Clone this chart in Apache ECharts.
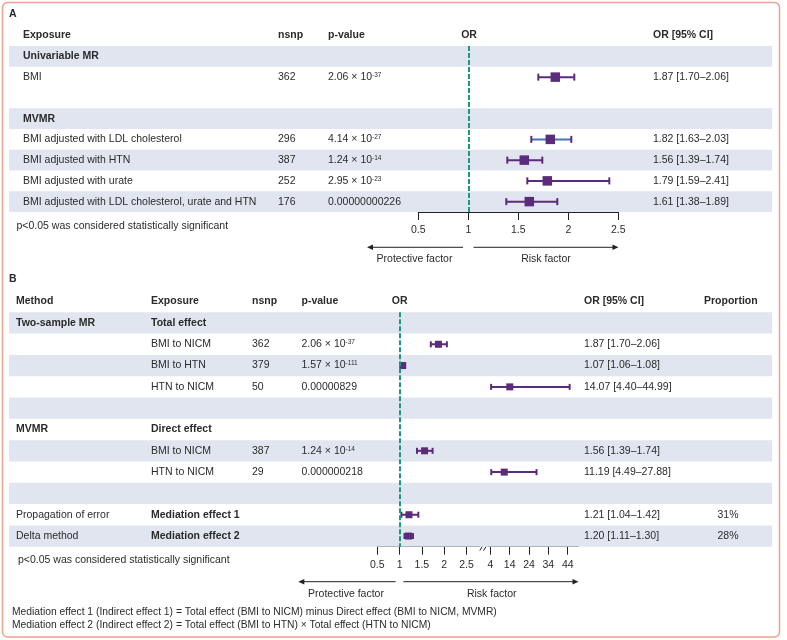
<!DOCTYPE html>
<html><head><meta charset="utf-8">
<script src="https://cdn.jsdelivr.net/npm/echarts@6/dist/echarts.min.js"></script>
<style>html,body{margin:0;padding:0;background:#fff}#c{width:787px;height:640px}</style>
</head><body><div id="c"></div>
<script>
// ---------------- Panel A data ----------------
const aExposure = ['Univariable MR', 'BMI', '', 'MVMR', 'BMI adjusted with LDL cholesterol', 'BMI adjusted with HTN', 'BMI adjusted with urate', 'BMI adjusted with LDL cholesterol, urate and HTN'];
const aNsnp = ['', '362', '', '', '296', '387', '252', '176'];
const aPvalue = ['', '2.06 × 10^-37', '', '', '4.14 × 10^-27', '1.24 × 10^-14', '2.95 × 10^-23', '0.00000000226'];
const aOR = [null, 1.87, null, null, 1.82, 1.56, 1.79, 1.61];
const aLower = [null, 1.70, null, null, 1.63, 1.39, 1.59, 1.38];
const aUpper = [null, 2.06, null, null, 2.03, 1.74, 2.41, 1.89];
const aTicks = [0.5, 1, 1.5, 2, 2.5];
const aHeaders = ['Exposure', 'nsnp', 'p-value', 'OR', 'OR [95% CI]'];

// ---------------- Panel B data ----------------
const bMethod = ['Two-sample MR', '', '', '', '', 'MVMR', '', '', '', 'Propagation of error', 'Delta method'];
const bExposure = ['Total effect', 'BMI to NICM', 'BMI to HTN', 'HTN to NICM', '', 'Direct effect', 'BMI to NICM', 'HTN to NICM', '', 'Mediation effect 1', 'Mediation effect 2'];
const bNsnp = ['', '362', '379', '50', '', '', '387', '29', '', '', ''];
const bPvalue = ['', '2.06 × 10^-37', '1.57 × 10^-111', '0.00000829', '', '', '1.24 × 10^-14', '0.000000218', '', '', ''];
const bOR = [null, 1.87, 1.07, 14.07, null, null, 1.56, 11.19, null, 1.21, 1.20];
const bLower = [null, 1.70, 1.06, 4.40, null, null, 1.39, 4.49, null, 1.04, 1.11];
const bUpper = [null, 2.06, 1.08, 44.99, null, null, 1.74, 27.88, null, 1.42, 1.30];
const bProportion = ['', '', '', '', '', '', '', '', '', '31%', '28%'];
const bTicksLow = [0.5, 1, 1.5, 2, 2.5];
const bTicksHigh = [4, 14, 24, 34, 44];
const bHeaders = ['Method', 'Exposure', 'nsnp', 'p-value', 'OR', 'OR [95% CI]', 'Proportion'];

const noteText = 'p<0.05 was considered statistically significant';
const footnotes = [
  'Mediation effect 1 (Indirect effect 1) = Total effect (BMI to NICM) minus Direct effect (BMI to NICM, MVMR)',
  'Mediation effect 2 (Indirect effect 2) = Total effect (BMI to HTN) × Total effect (HTN to NICM)'
];

// ---------------- Styles / layout ----------------
const FONT = '"Liberation Sans", Arial, sans-serif';
const FS = 10.5;
const TXT = '#2b2b2b';
const PURPLE = '#5b2b7c', BLUE = '#4674ba', TEAL = '#1a9a80', BAND = '#e1e5ef', BORDER = '#eda18e', AXIS = '#222';
const aBoldRows = [0, 3], aShadeRows = [0, 3, 5, 7], aBlueRows = [4];
const bMethodBold = [0, 5], bExposureBold = [0, 5, 9, 10];
const bShade = i => i % 2 === 0;
const LA = { top: 46, bottom: 212, plotLeft: 418.3, plotRight: 618.3 };
const LB = { top: 312.3, bottom: 546.7, lowLeft: 377.3, lowMax: 2.8, highMin: 2.8, highMax: 49.5, lowPx: 44.6, highPx: 1.935, highLeft: 488 };
const TABLE_L = 9, TABLE_R = 772;
const fmt = v => v.toFixed(2);
const ciText = (o, l, u) => o == null ? '' : fmt(o) + ' [' + fmt(l) + '–' + fmt(u) + ']';
const pRich = s => { const k = s.indexOf('^'); return k < 0 ? s : s.slice(0, k) + '{sup|' + s.slice(k + 1) + '}'; };
const tf = (b, size) => (b ? 'bold ' : '') + (size || FS) + 'px ' + FONT;
const RICH = { sup: { font: '6.5px ' + FONT, fontSize: 6.5, fontFamily: FONT, verticalAlign: 'top', lineHeight: 9, fill: TXT } };
function textEl(x, y, text, bold, align, size) {
  return {
    type: 'text', x: x, y: y,
    style: { text: text, font: tf(bold, size), fill: TXT, align: align || 'left', verticalAlign: 'middle',
      textAlign: align || 'left', textVerticalAlign: 'middle', rich: RICH }
  };
}

function tableRenderer(shadeFn, cols) {
  return function (params, api) {
    const i = api.value(1);
    const c = api.coord([0, i]);
    const h = api.size([0, 1])[1];
    const cs = params.coordSys;
    const ch = [];
    if (shadeFn(i)) ch.push({ type: 'rect', shape: { x: cs.x, y: c[1] - h / 2, width: cs.width, height: h }, style: { fill: BAND } });
    cols.forEach(col => {
      const t = col.get(i);
      if (t) ch.push(textEl(col.x, c[1], t, col.bold ? col.bold(i) : false, col.align));
    });
    return { type: 'group', children: ch };
  };
}

function ciRenderer(capH, blueRows) {
  return function (params, api) {
    const lo = api.value(0), hi = api.value(1), i = api.value(2);
    const a = api.coord([lo, i]), b = api.coord([hi, i]);
    const lineColor = blueRows.indexOf(i) >= 0 ? BLUE : PURPLE;
    const h = capH / 2;
    return { type: 'group', children: [
      { type: 'line', shape: { x1: a[0], y1: a[1], x2: b[0], y2: b[1] }, style: { stroke: lineColor, lineWidth: 2 } },
      { type: 'line', shape: { x1: a[0], y1: a[1] - h, x2: a[0], y2: a[1] + h }, style: { stroke: PURPLE, lineWidth: 2 } },
      { type: 'line', shape: { x1: b[0], y1: b[1] - h, x2: b[0], y2: b[1] + h }, style: { stroke: PURPLE, lineWidth: 2 } }
    ] };
  };
}

const rowsIdx = arr => arr.map((_, i) => i);
const gridCommon = { outerBoundsMode: 'none', containLabel: false };
const axisStyle = {
  axisLine: { show: true, onZero: false, lineStyle: { color: AXIS, width: 1 } },
  axisTick: { show: true, inside: false, length: 8, lineStyle: { color: AXIS, width: 1 } },
  axisLabel: { margin: 12.5, color: TXT, fontSize: FS, fontFamily: FONT },
  splitLine: { show: false }
};
const hiddenY = (n) => ({ type: 'category', data: Array.from({ length: n }, (_, i) => String(i)), inverse: true, show: false });

// grids
const hA = LA.bottom - LA.top, hB = LB.bottom - LB.top;
const grids = [
  Object.assign({ left: TABLE_L, top: LA.top, width: TABLE_R - TABLE_L, height: hA }, gridCommon),
  Object.assign({ left: LA.plotLeft, top: LA.top, width: LA.plotRight - LA.plotLeft, height: hA }, gridCommon),
  Object.assign({ left: TABLE_L, top: LB.top, width: TABLE_R - TABLE_L, height: hB }, gridCommon),
  Object.assign({ left: LB.lowLeft, top: LB.top, width: (LB.lowMax - 0.5) * LB.lowPx, height: hB }, gridCommon),
  Object.assign({ left: LB.highLeft, top: LB.top, width: (LB.highMax - LB.highMin) * LB.highPx, height: hB }, gridCommon)
];

const xAxes = [
  { gridIndex: 0, type: 'value', min: 0, max: 1, show: false },
  Object.assign({}, axisStyle, { gridIndex: 1, type: 'value', min: 0.5, max: 2.5,
    axisTick: Object.assign({}, axisStyle.axisTick, { customValues: aTicks }),
    axisLabel: Object.assign({}, axisStyle.axisLabel, { customValues: aTicks }) }),
  { gridIndex: 2, type: 'value', min: 0, max: 1, show: false },
  Object.assign({}, axisStyle, { gridIndex: 3, type: 'value', min: 0.5, max: LB.lowMax,
    axisTick: Object.assign({}, axisStyle.axisTick, { customValues: bTicksLow }),
    axisLabel: Object.assign({}, axisStyle.axisLabel, { customValues: bTicksLow }) }),
  Object.assign({}, axisStyle, { gridIndex: 4, type: 'value', min: LB.highMin, max: LB.highMax,
    axisTick: Object.assign({}, axisStyle.axisTick, { customValues: bTicksHigh }),
    axisLabel: Object.assign({}, axisStyle.axisLabel, { customValues: bTicksHigh }) })
];
const yAxes = [
  Object.assign({ gridIndex: 0 }, hiddenY(aExposure.length)),
  Object.assign({ gridIndex: 1 }, hiddenY(aExposure.length)),
  Object.assign({ gridIndex: 2 }, hiddenY(bExposure.length)),
  Object.assign({ gridIndex: 3 }, hiddenY(bExposure.length)),
  Object.assign({ gridIndex: 4 }, hiddenY(bExposure.length))
];

const refLine = {
  silent: true, symbol: ['none', 'none'], label: { show: false },
  lineStyle: { color: TEAL, width: 2, type: [5, 2] },
  data: [{ xAxis: 1 }], animation: false
};

function ciData(or, lo, hi, pred) {
  const out = [];
  or.forEach((v, i) => { if (v != null && pred(i)) out.push([lo[i], hi[i], i]); });
  return out;
}
function ptData(or, pred) {
  const out = [];
  or.forEach((v, i) => { if (v != null && pred(i)) out.push([v, i]); });
  return out;
}
const all = () => true;
const isLow = i => bUpper[i] <= LB.lowMax;
const isHigh = i => bLower[i] >= LB.highMin;

const series = [
  { type: 'custom', xAxisIndex: 0, yAxisIndex: 0, z: 1, silent: true,
    data: rowsIdx(aExposure).map(i => [0, i]), encode: { x: 0, y: 1 },
    renderItem: tableRenderer(i => aShadeRows.indexOf(i) >= 0, [
      { x: 23, get: i => aExposure[i], bold: i => aBoldRows.indexOf(i) >= 0 },
      { x: 278, get: i => aNsnp[i] },
      { x: 328, get: i => pRich(aPvalue[i]) },
      { x: 653, get: i => ciText(aOR[i], aLower[i], aUpper[i]) }
    ]) },
  { type: 'custom', xAxisIndex: 1, yAxisIndex: 1, z: 3, silent: true,
    data: ciData(aOR, aLower, aUpper, all), encode: { x: [0, 1], y: 2 },
    renderItem: ciRenderer(7, aBlueRows) },
  { type: 'scatter', xAxisIndex: 1, yAxisIndex: 1, z: 4, silent: true, symbol: 'rect', symbolSize: 9.5,
    itemStyle: { color: PURPLE, opacity: 1 }, data: ptData(aOR, all), markLine: refLine },

  { type: 'custom', xAxisIndex: 2, yAxisIndex: 2, z: 1, silent: true,
    data: rowsIdx(bExposure).map(i => [0, i]), encode: { x: 0, y: 1 },
    renderItem: tableRenderer(bShade, [
      { x: 16, get: i => bMethod[i], bold: i => bMethodBold.indexOf(i) >= 0 },
      { x: 151, get: i => bExposure[i], bold: i => bExposureBold.indexOf(i) >= 0 },
      { x: 252, get: i => bNsnp[i] },
      { x: 301.5, get: i => pRich(bPvalue[i]) },
      { x: 584, get: i => ciText(bOR[i], bLower[i], bUpper[i]) },
      { x: 728, get: i => bProportion[i], align: 'center' }
    ]) },
  { type: 'custom', xAxisIndex: 3, yAxisIndex: 3, z: 3, silent: true,
    data: ciData(bOR, bLower, bUpper, isLow), encode: { x: [0, 1], y: 2 },
    renderItem: ciRenderer(6, []) },
  { type: 'scatter', xAxisIndex: 3, yAxisIndex: 3, z: 4, silent: true, symbol: 'rect', symbolSize: 7,
    itemStyle: { color: PURPLE, opacity: 1 }, data: ptData(bOR, isLow), markLine: refLine },
  { type: 'custom', xAxisIndex: 4, yAxisIndex: 4, z: 3, silent: true,
    data: ciData(bOR, bLower, bUpper, isHigh), encode: { x: [0, 1], y: 2 },
    renderItem: ciRenderer(6, []) },
  { type: 'scatter', xAxisIndex: 4, yAxisIndex: 4, z: 4, silent: true, symbol: 'rect', symbolSize: 7,
    itemStyle: { color: PURPLE, opacity: 1 }, data: ptData(bOR, isHigh) }
];

// ---------------- decorations ----------------
function arrow(x1, x2, y) {
  const dir = x2 > x1 ? 1 : -1;
  return [
    { type: 'line', shape: { x1: x1, y1: y, x2: x2 - dir * 4, y2: y }, style: { stroke: AXIS, lineWidth: 1 } },
    { type: 'polygon', shape: { points: [[x2, y], [x2 - dir * 6, y - 2.8], [x2 - dir * 6, y + 2.8]] }, style: { fill: AXIS } }
  ];
}
const aHeaderX = [23, 278, 328, 469, 653];
const aHeaderAlign = ['left', 'left', 'left', 'center', 'left'];
const bHeaderX = [16, 151, 252, 301.5, 399.7, 584, 704];
const bHeaderAlign = ['left', 'left', 'left', 'left', 'center', 'left', 'left'];

const graphics = [
  { type: 'rect', shape: { x: 2.5, y: 2.5, width: 777, height: 634.5, r: 5 }, style: { fill: 'none', stroke: BORDER, lineWidth: 1.5 }, z: 0 },
  textEl(9, 14, 'A', true),
  textEl(9, 279, 'B', true)
];
aHeaders.forEach((h, k) => graphics.push(textEl(aHeaderX[k], 35, h, true, aHeaderAlign[k])));
bHeaders.forEach((h, k) => graphics.push(textEl(bHeaderX[k], 301, h, true, bHeaderAlign[k])));
graphics.push(textEl(16.5, 226, noteText, false));
graphics.push(textEl(18, 560, noteText, false));
graphics.push(...arrow(463, 367, 247.3), ...arrow(473.5, 618.5, 247.3));
graphics.push(textEl(414.5, 259, 'Protective factor', false, 'center'));
graphics.push(textEl(546, 259, 'Risk factor', false, 'center'));
graphics.push(...arrow(395.7, 298.3, 581.7), ...arrow(403.3, 578.5, 581.7));
graphics.push(textEl(346, 594, 'Protective factor', false, 'center'));
graphics.push(textEl(491.7, 594, 'Risk factor', false, 'center'));
// axis break marks
graphics.push({ type: 'line', shape: { x1: 479.8, y1: 550.6, x2: 484.2, y2: 543.2 }, style: { stroke: AXIS, lineWidth: 1 } });
graphics.push({ type: 'line', shape: { x1: 483.6, y1: 550.6, x2: 488, y2: 543.2 }, style: { stroke: AXIS, lineWidth: 1 } });
graphics.push(textEl(12, 612, footnotes[0], false, 'left', 10.3));
graphics.push(textEl(12, 625, footnotes[1], false, 'left', 10.3));

const chart = echarts.init(document.getElementById('c'), null, { renderer: 'canvas' });
chart.setOption({
  animation: false,
  backgroundColor: '#fff',
  textStyle: { fontFamily: FONT },
  grid: grids, xAxis: xAxes, yAxis: yAxes, series: series,
  graphic: { elements: graphics }
});
</script></body></html>
